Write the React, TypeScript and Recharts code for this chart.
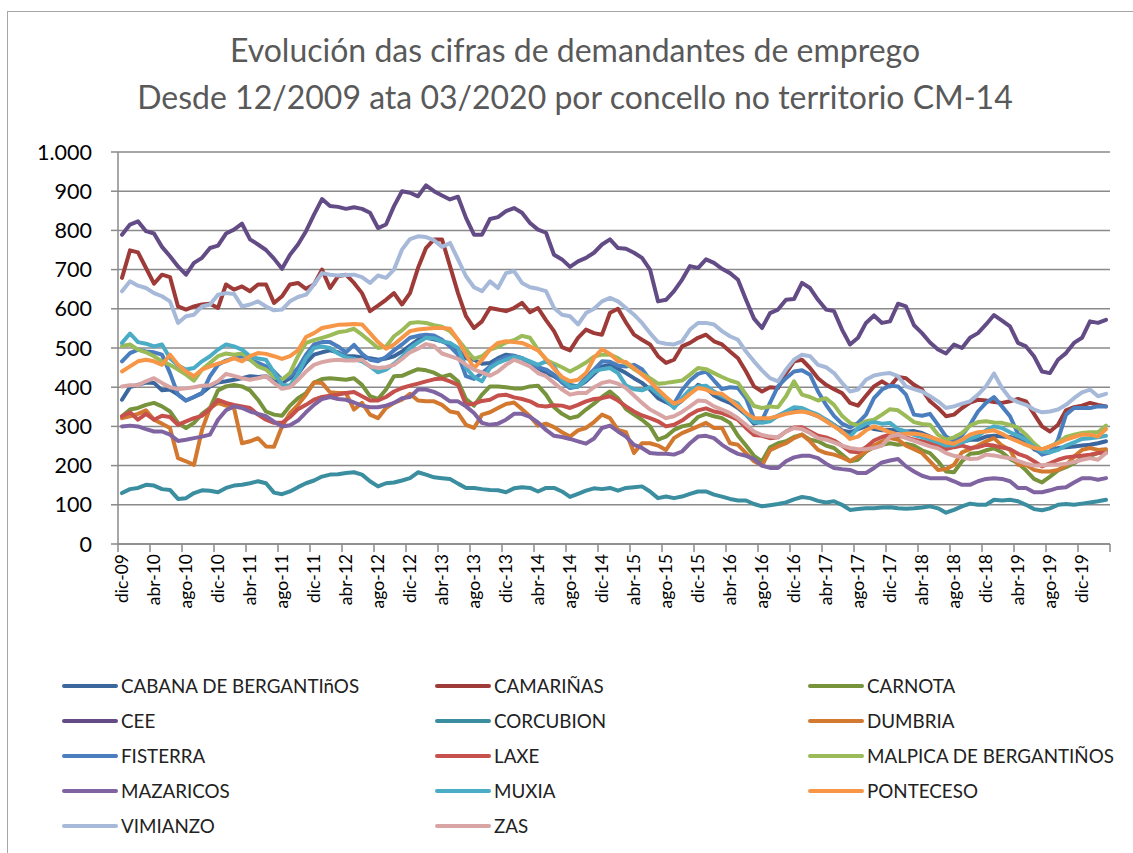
import { CartesianGrid, Line, LineChart, XAxis, YAxis } from 'recharts';

// demandantes de emprego por concello, CM-14, dic-09 .. mar-20 (124 meses)
const MONTH_NAMES = ['xan', 'feb', 'mar', 'abr', 'mai', 'xuñ', 'xul', 'ago', 'set', 'out', 'nov', 'dic'];
const months: string[] = Array.from({ length: 124 }, (_, i) => {
  const m = (11 + i) % 12;
  const y = 9 + Math.floor((11 + i) / 12);
  return `${MONTH_NAMES[m]}-${String(y).padStart(2, '0')}`;
});

const cabana = [
  368, 400, 406, 412, 411, 392, 394, 381, 366, 375, 385, 402, 412, 415, 419, 423, 428, 426, 428, 415,
  411, 423, 434, 462, 483, 489, 494, 489, 479, 479, 476, 474, 470, 473, 479, 491, 506, 521, 526, 522,
  517, 509, 496, 474, 470, 460, 462, 474, 483, 480, 474, 463, 449, 436, 428, 415, 406, 402, 415, 434,
  453, 457, 447, 436, 423, 411, 394, 372, 362, 351, 366, 385, 406, 398, 379, 368, 360, 347, 330, 307,
  313, 319, 327, 336, 343, 341, 334, 326, 317, 304, 290, 285, 293, 300, 293, 290, 291, 290, 287, 288,
  283, 274, 264, 251, 252, 260, 266, 266, 274, 276, 274, 273, 268, 262, 242, 232, 236, 245, 247, 249,
  251, 253, 257, 262,
];
const camarinas = [
  679, 749, 744, 704, 664, 687, 681, 606, 598, 606, 611, 613, 602, 662, 649, 657, 645, 662, 662, 615,
  632, 662, 666, 651, 662, 700, 653, 683, 687, 666, 640, 594, 608, 623, 640, 611, 640, 704, 755, 777,
  777, 709, 640, 581, 551, 568, 602, 598, 594, 602, 615, 591, 602, 571, 543, 502, 494, 526, 547, 538,
  534, 590, 600, 565, 534, 521, 509, 479, 462, 470, 504, 513, 526, 534, 517, 509, 491, 474, 440, 402,
  389, 400, 398, 436, 466, 470, 449, 423, 406, 395, 385, 360, 353, 378, 402, 415, 402, 426, 423, 406,
  394, 364, 347, 326, 330, 347, 361, 368, 366, 362, 360, 364, 370, 364, 332, 300, 287, 304, 341, 349,
  353, 360, 355, 351,
];
const carnota = [
  326, 343, 347, 355, 360, 351, 338, 309, 296, 309, 332, 347, 392, 402, 406, 402, 392, 368, 338, 330,
  327, 353, 372, 385, 412, 421, 423, 421, 419, 423, 406, 377, 370, 394, 428, 429, 438, 446, 443, 437,
  426, 432, 415, 370, 353, 381, 402, 402, 400, 397, 397, 402, 404, 381, 349, 332, 321, 326, 343, 358,
  375, 389, 372, 344, 330, 317, 300, 266, 274, 291, 300, 304, 324, 332, 326, 321, 309, 276, 251, 225,
  211, 247, 257, 262, 273, 279, 266, 262, 251, 245, 228, 211, 215, 236, 247, 253, 257, 253, 256, 251,
  239, 232, 211, 185, 183, 211, 230, 232, 239, 244, 234, 217, 206, 188, 166, 157, 172, 188, 196, 206,
  219, 225, 232, 236,
];
const cee = [
  789, 815, 823, 798, 792, 758, 734, 708, 687, 717, 730, 755, 761, 792, 802, 817, 777, 764, 750, 728,
  702, 738, 764, 798, 840, 880, 862, 860, 855, 859, 855, 845, 806, 815, 862, 900, 896, 887, 915, 900,
  889, 879, 886, 832, 789, 789, 829, 834, 849, 857, 845, 819, 802, 794, 738, 726, 707, 721, 730, 743,
  764, 777, 755, 753, 743, 730, 700, 619, 623, 645, 674, 709, 704, 726, 717, 702, 691, 674, 623, 575,
  551, 589, 598, 623, 625, 666, 653, 623, 598, 594, 547, 509, 526, 564, 583, 564, 568, 613, 606, 558,
  538, 514, 496, 486, 509, 500, 526, 538, 560, 584, 570, 555, 513, 504, 479, 440, 436, 470, 487, 513,
  526, 568, 564, 572,
];
const corcubion = [
  130, 140, 143, 151, 149, 140, 138, 115, 117, 130, 137, 136, 132, 143, 149, 151, 155, 160, 155, 131,
  127, 134, 145, 155, 162, 172, 177, 178, 181, 183, 177, 160, 147, 155, 157, 162, 168, 183, 177, 170,
  168, 166, 154, 143, 143, 140, 138, 137, 132, 142, 145, 143, 134, 143, 143, 134, 120, 128, 136, 142,
  140, 143, 136, 143, 145, 147, 134, 117, 121, 117, 121, 128, 134, 134, 126, 121, 115, 111, 111, 102,
  96, 99, 102, 106, 114, 120, 117, 110, 106, 109, 100, 87, 89, 91, 91, 93, 94, 91, 90, 91,
  93, 96, 91, 80, 87, 96, 103, 100, 100, 113, 111, 113, 109, 100, 89, 86, 91, 100, 102, 100,
  103, 106, 109, 113,
];
const dumbria = [
  321, 326, 332, 341, 317, 307, 296, 219, 211, 202, 291, 347, 360, 353, 347, 257, 262, 270, 249, 248,
  300, 334, 355, 381, 412, 411, 387, 385, 385, 343, 360, 330, 321, 347, 360, 368, 383, 366, 364, 364,
  355, 338, 334, 304, 296, 330, 336, 347, 357, 361, 344, 326, 302, 307, 298, 285, 274, 290, 296, 311,
  330, 321, 291, 285, 232, 257, 257, 251, 240, 270, 283, 291, 300, 309, 296, 296, 257, 253, 232, 211,
  200, 239, 249, 257, 270, 279, 262, 240, 232, 228, 221, 211, 223, 236, 251, 262, 270, 266, 251, 242,
  232, 211, 189, 191, 202, 234, 242, 251, 262, 270, 251, 240, 202, 202, 189, 185, 185, 189, 200, 223,
  240, 245, 240, 242,
];
const fisterra = [
  466, 487, 496, 491, 489, 483, 436, 381, 366, 375, 385, 428, 457, 468, 474, 479, 470, 462, 453, 440,
  419, 428, 449, 483, 509, 515, 515, 504, 489, 508, 485, 470, 466, 477, 494, 509, 526, 531, 534, 532,
  521, 504, 483, 428, 421, 436, 453, 468, 477, 480, 474, 460, 451, 445, 432, 412, 398, 402, 425, 445,
  466, 465, 455, 453, 457, 446, 419, 387, 368, 358, 392, 417, 434, 440, 417, 395, 400, 398, 372, 320,
  315, 360, 402, 423, 440, 443, 432, 389, 355, 327, 307, 297, 309, 330, 372, 394, 404, 402, 381, 330,
  327, 332, 304, 274, 262, 277, 304, 338, 360, 375, 351, 326, 281, 270, 247, 228, 234, 266, 330, 347,
  347, 347, 351, 351,
];
const laxe = [
  326, 336, 317, 332, 317, 327, 324, 304, 313, 321, 327, 344, 368, 360, 355, 351, 347, 330, 317, 309,
  309, 324, 344, 355, 368, 375, 378, 381, 385, 388, 377, 366, 366, 375, 389, 398, 404, 409, 415, 420,
  422, 415, 406, 355, 358, 365, 368, 379, 381, 374, 370, 364, 353, 351, 354, 353, 347, 355, 364, 370,
  372, 377, 366, 351, 338, 328, 321, 313, 300, 304, 315, 330, 341, 346, 338, 334, 326, 317, 296, 278,
  276, 270, 272, 287, 297, 298, 287, 276, 272, 264, 251, 236, 234, 247, 264, 273, 279, 276, 272, 266,
  262, 257, 251, 242, 247, 251, 245, 247, 253, 251, 246, 242, 230, 223, 211, 198, 206, 215, 221, 223,
  225, 228, 232, 232,
];
const malpica = [
  505, 509, 496, 489, 479, 466, 457, 445, 432, 417, 445, 462, 479, 486, 483, 486, 470, 453, 445, 426,
  419, 436, 479, 513, 520, 526, 532, 540, 543, 549, 534, 517, 500, 504, 530, 545, 564, 566, 564, 558,
  554, 543, 521, 496, 472, 479, 496, 503, 514, 520, 531, 526, 496, 470, 460, 451, 440, 451, 463, 478,
  483, 483, 474, 460, 446, 434, 423, 409, 411, 414, 417, 432, 449, 446, 436, 426, 417, 411, 381, 352,
  347, 351, 349, 377, 415, 381, 375, 366, 372, 355, 327, 309, 302, 313, 317, 330, 344, 341, 326, 311,
  306, 304, 279, 266, 272, 283, 302, 311, 313, 310, 309, 304, 297, 279, 257, 240, 249, 259, 273, 279,
  283, 285, 285, 302,
];
const mazaricos = [
  300, 302, 300, 293, 287, 287, 279, 263, 266, 270, 274, 279, 317, 341, 351, 347, 338, 332, 326, 312,
  300, 303, 315, 336, 355, 370, 375, 370, 368, 361, 353, 349, 349, 353, 360, 372, 375, 394, 394, 388,
  378, 364, 364, 351, 334, 309, 304, 307, 317, 332, 332, 324, 310, 291, 276, 273, 268, 262, 256, 269,
  296, 302, 287, 274, 253, 245, 232, 230, 230, 228, 236, 257, 274, 276, 270, 253, 240, 230, 225, 217,
  200, 194, 194, 211, 221, 225, 225, 219, 205, 194, 191, 189, 181, 181, 194, 208, 213, 217, 198, 185,
  174, 168, 168, 168, 160, 151, 151, 160, 166, 168, 166, 160, 143, 143, 132, 132, 137, 143, 145, 157,
  168, 168, 164, 168,
];
const muxia = [
  513, 537, 515, 511, 504, 509, 474, 455, 445, 449, 466, 479, 496, 509, 504, 496, 479, 473, 470, 438,
  406, 404, 434, 474, 500, 504, 500, 486, 476, 472, 466, 453, 438, 445, 460, 477, 500, 514, 526, 525,
  517, 513, 500, 449, 426, 415, 449, 462, 470, 477, 474, 466, 457, 466, 453, 419, 402, 402, 419, 440,
  446, 449, 436, 404, 395, 392, 400, 383, 368, 347, 372, 394, 402, 404, 389, 377, 368, 358, 330, 311,
  309, 313, 327, 338, 349, 347, 338, 330, 317, 304, 285, 274, 296, 307, 311, 307, 309, 293, 287, 278,
  273, 266, 259, 251, 252, 259, 268, 276, 290, 300, 296, 285, 276, 266, 247, 236, 234, 240, 251, 259,
  268, 270, 272, 276,
];
const ponteceso = [
  440, 453, 466, 470, 466, 457, 483, 457, 440, 428, 445, 453, 460, 466, 474, 466, 479, 487, 485, 479,
  472, 479, 494, 528, 538, 551, 555, 559, 560, 561, 560, 538, 515, 498, 509, 526, 543, 547, 549, 551,
  551, 549, 521, 483, 449, 470, 496, 513, 517, 515, 513, 504, 494, 472, 447, 426, 415, 419, 436, 475,
  497, 485, 466, 464, 449, 432, 415, 394, 375, 358, 366, 383, 398, 394, 385, 383, 368, 351, 334, 321,
  321, 321, 326, 332, 336, 338, 334, 326, 313, 300, 287, 268, 274, 290, 300, 293, 285, 279, 281, 282,
  279, 273, 266, 259, 256, 266, 279, 285, 287, 290, 281, 270, 262, 253, 245, 242, 249, 257, 266, 273,
  279, 279, 274, 293,
];
const vimianzo = [
  645, 670, 659, 653, 640, 632, 619, 564, 581, 585, 606, 611, 636, 640, 638, 606, 611, 619, 606, 596,
  598, 619, 630, 636, 662, 691, 687, 685, 686, 687, 681, 666, 685, 679, 700, 751, 778, 785, 783, 775,
  758, 768, 726, 683, 655, 645, 670, 653, 691, 696, 666, 655, 651, 645, 602, 585, 581, 560, 589, 600,
  619, 628, 619, 602, 585, 564, 538, 515, 511, 509, 517, 547, 564, 564, 560, 543, 530, 521, 491, 466,
  443, 423, 415, 445, 470, 483, 479, 457, 451, 436, 411, 389, 394, 419, 430, 434, 436, 428, 402, 395,
  389, 377, 364, 347, 351, 358, 364, 381, 402, 435, 398, 372, 362, 355, 343, 336, 338, 343, 355, 372,
  387, 394, 377, 383,
];
const zas = [
  402, 405, 405, 415, 423, 411, 400, 395, 397, 400, 404, 405, 415, 434, 429, 423, 419, 423, 428, 411,
  396, 400, 419, 440, 457, 464, 468, 470, 468, 468, 470, 453, 449, 451, 457, 472, 489, 498, 510, 505,
  486, 479, 472, 457, 445, 438, 429, 440, 457, 470, 462, 453, 436, 428, 411, 394, 381, 385, 385, 400,
  411, 415, 409, 398, 379, 360, 343, 332, 321, 326, 337, 351, 366, 364, 351, 343, 334, 321, 304, 287,
  278, 274, 272, 287, 296, 293, 283, 270, 266, 259, 251, 245, 242, 242, 245, 251, 274, 279, 270, 263,
  256, 249, 244, 232, 225, 221, 217, 218, 228, 226, 222, 219, 212, 205, 200, 201, 202, 202, 205, 209,
  215, 219, 215, 232,
];

const yTicks = [0, 100, 200, 300, 400, 500, 600, 700, 800, 900, 1000];

const SERIES = [
  { key: 'cabana', name: 'CABANA DE BERGANTIñOS', color: '#3B679E', values: cabana },
  { key: 'camarinas', name: 'CAMARIÑAS', color: '#9E3B38', values: camarinas },
  { key: 'carnota', name: 'CARNOTA', color: '#77933C', values: carnota },
  { key: 'cee', name: 'CEE', color: '#634C86', values: cee },
  { key: 'corcubion', name: 'CORCUBION', color: '#3A8E9F', values: corcubion },
  { key: 'dumbria', name: 'DUMBRIA', color: '#D3782F', values: dumbria },
  { key: 'fisterra', name: 'FISTERRA', color: '#4A7EBF', values: fisterra },
  { key: 'laxe', name: 'LAXE', color: '#C5504C', values: laxe },
  { key: 'malpica', name: 'MALPICA DE BERGANTIÑOS', color: '#9BBB59', values: malpica },
  { key: 'mazaricos', name: 'MAZARICOS', color: '#8064A2', values: mazaricos },
  { key: 'muxia', name: 'MUXIA', color: '#4BACC6', values: muxia },
  { key: 'ponteceso', name: 'PONTECESO', color: '#F79646', values: ponteceso },
  { key: 'vimianzo', name: 'VIMIANZO', color: '#A7B9D9', values: vimianzo },
  { key: 'zas', name: 'ZAS', color: '#D9A5A4', values: zas },
];

const data = months.map((month, i) => {
  const row: Record<string, string | number> = { month };
  SERIES.forEach((s) => {
    row[s.key] = s.values[i];
  });
  return row;
});

const FONT = 'Lato, "Open Sans", sans-serif';
const AXIS_GRAY = '#8A8A8A';

// etiqueta vertical + marca de división entre categorías
function MonthTick(props: any) {
  const { x, y, payload } = props;
  const edge = x - 4;
  return (
    <g>
      <line x1={edge} y1={y - 8} x2={edge} y2={y} stroke={AXIS_GRAY} strokeWidth={1.5} />
      {payload.value === 'dic-19' && (
        <line x1={x + 28} y1={y - 8} x2={x + 28} y2={y} stroke={AXIS_GRAY} strokeWidth={1.5} />
      )}
      <text
        transform={`translate(${x},${y + 2}) rotate(-90)`}
        textAnchor="end"
        dy="0.36em"
        fontSize={17.5}
        fontFamily={FONT}
        fill="#000"
      >
        {payload.value}
      </text>
    </g>
  );
}

export default function App() {
  return (
    <div
      style={{
        position: 'absolute',
        left: 0,
        top: 0,
        width: 1133,
        height: 853,
        background: '#fff',
        overflow: 'hidden',
        fontFamily: FONT,
      }}
    >
      <div
        style={{
          position: 'absolute',
          left: 7,
          top: 11,
          width: 1200,
          height: 900,
          borderLeft: '1.5px solid #A6A6A6',
          borderTop: '1.5px solid #A6A6A6',
        }}
      />
      <div
        style={{
          position: 'absolute',
          left: 0,
          top: 26,
          width: 1150,
          textAlign: 'center',
          color: '#595959',
          fontSize: 32,
          lineHeight: '47px',
        }}
      >
        <div>Evolución das cifras de demandantes de emprego</div>
        <div>Desde 12/2009 ata 03/2020 por concello no territorio CM-14</div>
      </div>

      <div style={{ position: 'absolute', left: 0, top: 0 }}>
        <LineChart width={1133} height={853} data={data} margin={{ top: 152, right: 23, bottom: 0, left: 0 }}>
          <CartesianGrid vertical={false} stroke={AXIS_GRAY} strokeWidth={1.5} />
          <XAxis
            dataKey="month"
            interval={3}
            height={309}
            padding={{ left: 4, right: 4 }}
            tickLine={false}
            tickSize={8}
            tickMargin={0}
            axisLine={{ stroke: AXIS_GRAY, strokeWidth: 1.5 }}
            tick={<MonthTick />}
          />
          <YAxis
            width={118}
            domain={[0, 1000]}
            ticks={yTicks}
            interval={0}
            tickSize={7}
            tickMargin={19}
            axisLine={{ stroke: AXIS_GRAY, strokeWidth: 1.5 }}
            tickLine={{ stroke: AXIS_GRAY, strokeWidth: 1.5 }}
            tickFormatter={(v: number) => (v === 1000 ? '1.000' : String(v))}
            tick={{ fill: '#000', fontSize: 21.5, fontFamily: FONT }}
          />
          {SERIES.map((s) => (
            <Line
              key={s.key}
              dataKey={s.key}
              name={s.name}
              stroke={s.color}
              strokeWidth={4}
              strokeLinejoin="round"
              strokeLinecap="round"
              dot={false}
              activeDot={false}
              isAnimationActive={false}
            />
          ))}
        </LineChart>
      </div>

      {SERIES.map((s, k) => {
        const col = k % 3;
        const row = Math.floor(k / 3);
        const cy = 686 + row * 34.9;
        const left = 62 + col * 373;
        return (
          <div key={s.key}>
            <div
              style={{
                position: 'absolute',
                left,
                top: cy - 2,
                width: 56,
                height: 4,
                borderRadius: 2,
                background: s.color,
              }}
            />
            <div
              style={{
                position: 'absolute',
                left: left + 59,
                top: cy - 12,
                height: 24,
                lineHeight: '24px',
                fontSize: 18.8,
                color: '#222',
                whiteSpace: 'nowrap',
              }}
            >
              {s.name}
            </div>
          </div>
        );
      })}
    </div>
  );
}
